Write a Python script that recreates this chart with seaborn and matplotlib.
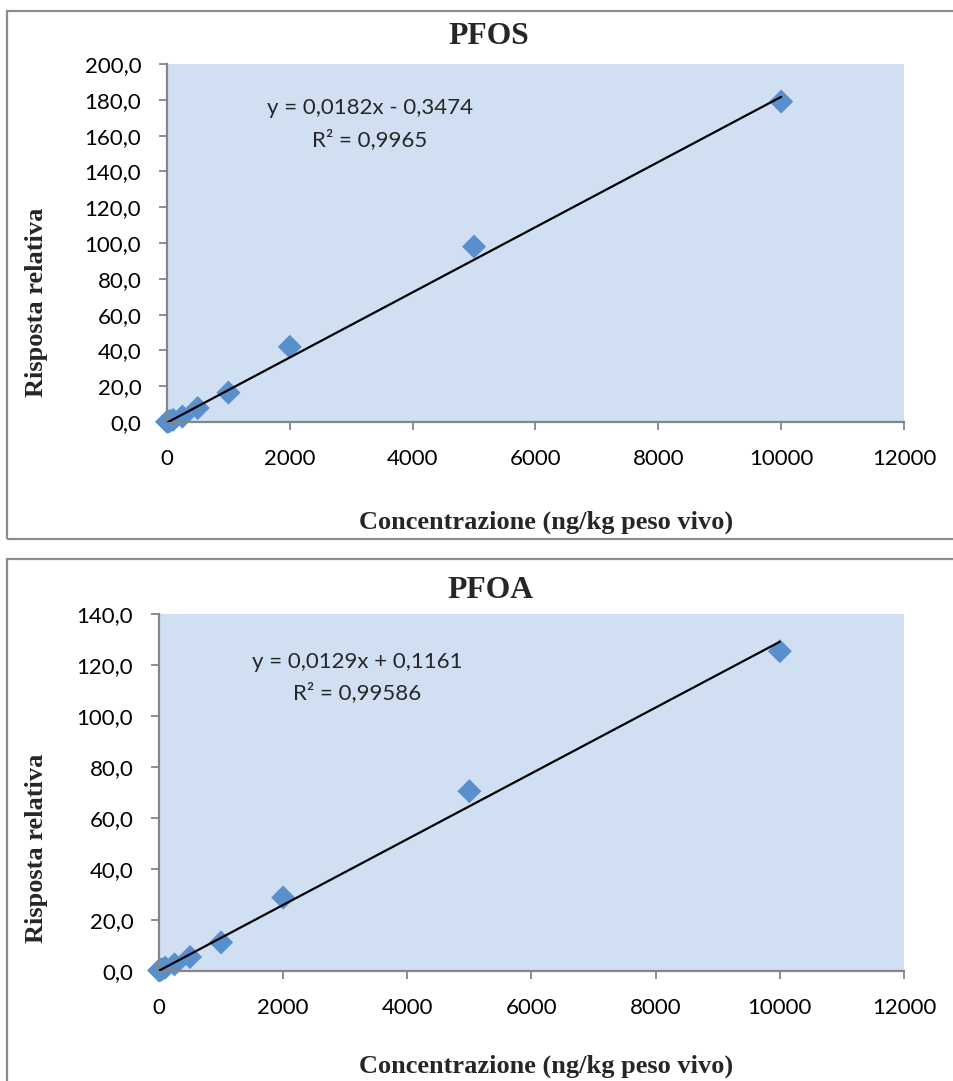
import numpy as np
import pandas as pd
import matplotlib
matplotlib.use("Agg")
import matplotlib.pyplot as plt
import seaborn as sns
from matplotlib.patches import Rectangle

# ---------------- data ----------------
conc = [0, 25, 50, 100, 250, 500, 1000, 2000, 5000, 10000]
pfos_resp = [0.1, 0.3, 0.6, 1.2, 3.0, 7.8, 16.4, 42.0, 98.0, 179.0]
pfoa_resp = [0.2, 0.4, 0.7, 1.3, 2.6, 5.5, 11.2, 28.8, 70.5, 125.4]

pfos_slope, pfos_intercept = 0.0182, -0.3474
pfoa_slope, pfoa_intercept = 0.0129, 0.1161
pfos_eq = ["y = 0,0182x - 0,3474", "R² = 0,9965"]
pfoa_eq = ["y = 0,0129x + 0,1161", "R² = 0,99586"]

titles = ["PFOS", "PFOA"]
xlabel = "Concentrazione (ng/kg peso vivo)"
ylabel = "Risposta relativa"
xticks = [0, 2000, 4000, 6000, 8000, 10000, 12000]
pfos_yticks = [0, 20, 40, 60, 80, 100, 120, 140, 160, 180, 200]
pfoa_yticks = [0, 20, 40, 60, 80, 100, 120, 140]

# ---------------- style ----------------
sns.set_theme(style="white")
plt.rcParams['font.family'] = ['Lato', 'DejaVu Sans']

W, H = 954, 1081
fig = plt.figure(figsize=(W / 100, H / 100), dpi=100)
fig.patch.set_facecolor("white")

def fx(px):
    return px / W

def fy(py):
    return 1 - py / H

# outer frames
for (x0, y0, x1, y1) in [(7.5, 10.5, 1000, 538.5), (7.5, 558.5, 1000, 1200)]:
    fig.patches.append(Rectangle((fx(x0), fy(y1)), fx(x1) - fx(x0), fy(y0) - fy(y1),
                                 transform=fig.transFigure, fill=False,
                                 edgecolor="#8c8c8c", linewidth=1.6, zorder=0))

PLOT_BG = "#D0E0F2"
MARK = "#588FCC"
SPINE = "#868686"
TICK_FS = 16
LABEL_FS = 19

panels = [
    dict(resp=pfos_resp, slope=pfos_slope, icpt=pfos_intercept, eq=pfos_eq,
         title=titles[0], yticks=pfos_yticks, box=(167, 64, 904, 422),
         title_xy=(489, 37), eq_xy=(370, 108, 140), xl_xy=(546, 522), yl_xy=(37, 302)),
    dict(resp=pfoa_resp, slope=pfoa_slope, icpt=pfoa_intercept, eq=pfoa_eq,
         title=titles[1], yticks=pfoa_yticks, box=(159, 614, 904, 971),
         title_xy=(491, 590), eq_xy=(357, 662, 693), xl_xy=(546, 1066), yl_xy=(37, 848)),
]

for p in panels:
    l, t, r, b = p["box"]
    ax = fig.add_axes([fx(l), fy(b), fx(r) - fx(l), fy(t) - fy(b)])
    ax.set_facecolor(PLOT_BG)
    df = pd.DataFrame({"x": conc, "y": p["resp"]})
    xs = np.array([0, conc[-1]])
    line_df = pd.DataFrame({"x": xs, "y": p["slope"] * xs + p["icpt"]})
    sns.scatterplot(data=df, x="x", y="y", marker="D", s=150, color=MARK,
                    edgecolor="none", ax=ax, zorder=2, clip_on=False)
    sns.lineplot(data=line_df, x="x", y="y", color="black", linewidth=1.6,
                 ax=ax, zorder=3)
    ax.set_xlim(0, 12000)
    ax.set_ylim(p["yticks"][0], p["yticks"][-1])
    ax.set_xticks(xticks)
    ax.set_xticklabels([str(v) for v in xticks])
    ax.set_yticks(p["yticks"])
    ax.set_yticklabels([f"{v:.1f}".replace(".", ",") for v in p["yticks"]])
    ax.tick_params(axis="both", which="both", direction="out", length=5.5, width=1.3,
                   color=SPINE, labelsize=TICK_FS, labelcolor="black",
                   bottom=True, left=True)
    ax.tick_params(axis="y", pad=13)
    ax.tick_params(axis="x", pad=14)
    for s in ["top", "right"]:
        ax.spines[s].set_visible(False)
    for s in ["left", "bottom"]:
        ax.spines[s].set_color(SPINE)
        ax.spines[s].set_linewidth(1.6)
    ax.set_xlabel("")
    ax.set_ylabel("")
    ax.grid(False)

    fig.text(fx(p["title_xy"][0]), fy(p["title_xy"][1]), p["title"],
             family="Liberation Serif", fontweight="bold", fontsize=22.8,
             ha="center", va="center")
    ex, ey1, ey2 = p["eq_xy"]
    fig.text(fx(ex), fy(ey1), p["eq"][0], fontsize=TICK_FS, ha="center", va="center")
    fig.text(fx(ex), fy(ey2), p["eq"][1], fontsize=TICK_FS, ha="center", va="center")
    fig.text(fx(p["xl_xy"][0]), fy(p["xl_xy"][1]), xlabel,
             family="Liberation Serif", fontweight="bold", fontsize=LABEL_FS,
             ha="center", va="center")
    fig.text(fx(p["yl_xy"][0]), fy(p["yl_xy"][1]), ylabel,
             family="Liberation Serif", fontweight="bold", fontsize=LABEL_FS,
             ha="center", va="center", rotation=90)

fig.savefig("out.png", dpi=100)
